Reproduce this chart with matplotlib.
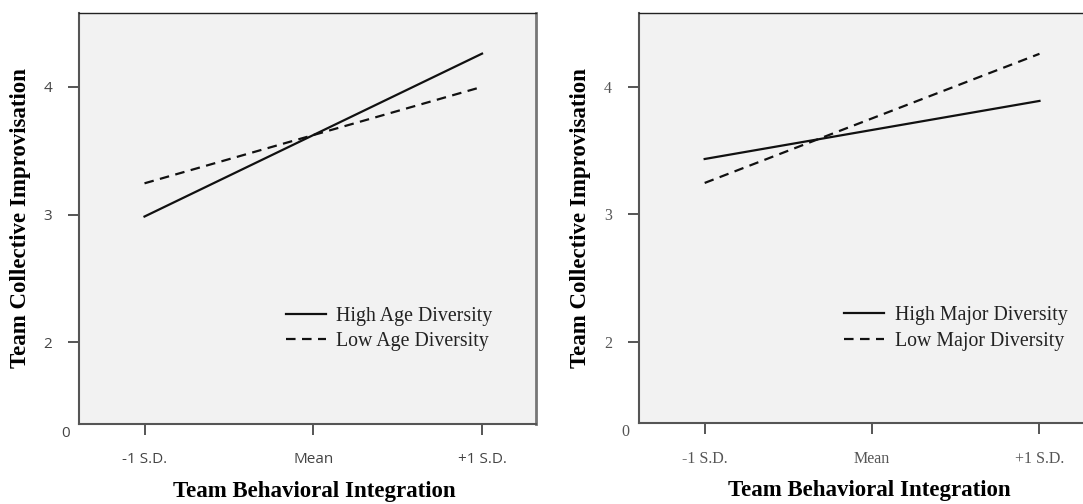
import matplotlib.pyplot as plt

# x categories and predicted values
x_labels = ["-1 S.D.", "Mean", "+1 S.D."]
x_pos = [0, 1, 2]
ends = [0, 2]

high_age = [2.985, 4.26]
low_age = [3.245, 4.00]
high_major = [3.434, 3.89]
low_major = [3.246, 4.26]

y_ticks = [2, 3, 4]

bg = "#f2f2f2"
line_col = "#111111"

fig = plt.figure(figsize=(10.83, 5.04), dpi=100)
ax1 = fig.add_axes([0.0725, 0.1587, 0.422, 0.8155])
ax2 = fig.add_axes([0.5896, 0.1607, 0.422, 0.8129])


def style_panel(ax, tick_font, tick_size, tick_col, xlim):
    ax.set_facecolor(bg)
    ax.set_xlim(*xlim)
    ax.set_ylim(1.361, 4.578)
    ax.set_xticks(x_pos)
    ax.set_xticklabels(x_labels, family=tick_font, fontsize=tick_size, color=tick_col)
    ax.set_yticks(y_ticks)
    ax.set_yticklabels([str(t) for t in y_ticks], family=tick_font,
                       fontsize=tick_size, color=tick_col)
    ax.tick_params(axis="both", length=8, width=1.4, color="#555555")
    ax.tick_params(axis="x", pad=12)
    ax.tick_params(axis="y", pad=11)
    for side in ["left", "bottom"]:
        ax.spines[side].set_color("#555555")
        ax.spines[side].set_linewidth(1.5)
    ax.spines["top"].set_color("#222222")
    ax.spines["top"].set_linewidth(1.0)
    ax.spines["right"].set_color("#777777")
    ax.spines["right"].set_linewidth(2.0)
    ax.set_xlabel("Team Behavioral Integration", family="Liberation Serif",
                  fontweight="bold", fontsize=16.5, va="center")
    ax.set_ylabel("Team Collective Improvisation", family="Liberation Serif",
                  fontweight="bold", fontsize=16.5, va="center")
    ax.text(-0.02, -0.022, "0", transform=ax.transAxes, ha="right", va="center",
            family=tick_font, fontsize=tick_size, color=tick_col)


style_panel(ax1, "Open Sans", 11, "#444444", (-0.391, 2.317))
style_panel(ax2, "Liberation Serif", 11.5, "#555555", (-0.395, 2.335))

ax1.xaxis.set_label_coords(0.516, -0.163)
ax1.yaxis.set_label_coords(-0.126, 0.5)
ax2.xaxis.set_label_coords(0.504, -0.165)
ax2.yaxis.set_label_coords(-0.126, 0.5)

ax1.plot(ends, high_age, color=line_col, lw=1.6, label="High Age Diversity")
ax1.plot(ends, low_age, color=line_col, lw=1.6, dashes=(4.3, 2.9),
         label="Low Age Diversity")
ax2.plot(ends, high_major, color=line_col, lw=1.6, label="High Major Diversity")
ax2.plot(ends, low_major, color=line_col, lw=1.6, dashes=(4.3, 2.9),
         label="Low Major Diversity")

for ax, bx in [(ax1, 0.454), (ax2, 0.45)]:
    leg = ax.legend(loc="upper left", bbox_to_anchor=(bx, 0.285), frameon=False,
                    borderpad=0, borderaxespad=0, handlelength=2.0,
                    handletextpad=0.54, labelspacing=0.33,
                    prop={"family": "Liberation Serif", "size": 14.3})
    for t in leg.get_texts():
        t.set_color("#222222")

fig.savefig("out.png", dpi=100, facecolor="white")
